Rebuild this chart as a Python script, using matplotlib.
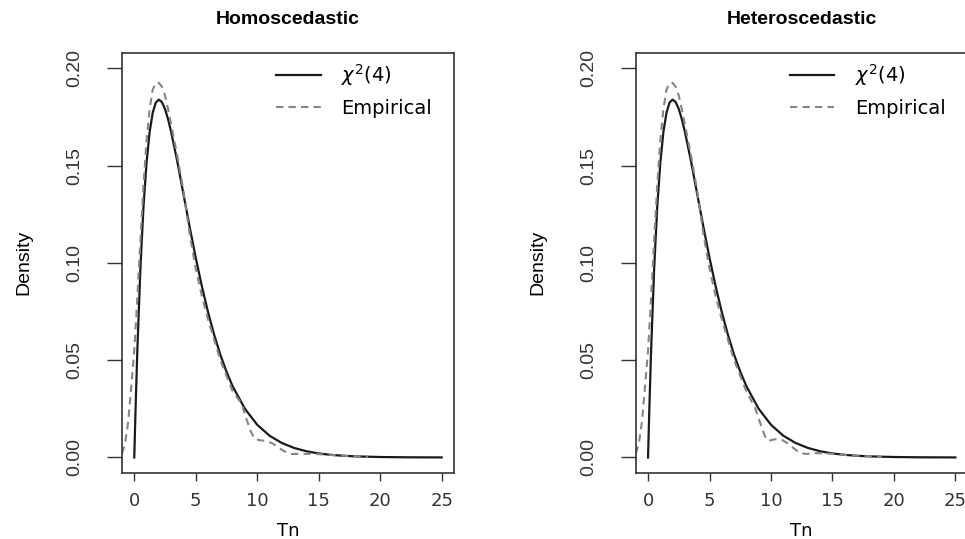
import numpy as np
import matplotlib
matplotlib.use("Agg")
import matplotlib.pyplot as plt

# chi-square(4) reference curve
chi_x = [0, 0.1, 0.25, 0.5, 0.75, 1, 1.25, 1.5, 1.75, 2, 2.25, 2.5, 2.75, 3, 3.5,
         4, 4.5, 5, 5.5, 6, 6.5, 7, 7.5, 8, 9, 10, 11, 12, 13, 14, 15, 16, 17, 18,
         20, 22, 25]
chi_y = [0, 0.0238, 0.0552, 0.0974, 0.1289, 0.1516, 0.1673, 0.1771, 0.1824, 0.1839,
         0.1826, 0.1791, 0.1738, 0.1673, 0.1521, 0.1353, 0.1186, 0.1026, 0.0879,
         0.0747, 0.0630, 0.0528, 0.0441, 0.0366, 0.0250, 0.0168, 0.0112, 0.00744,
         0.00489, 0.00319, 0.00207, 0.00134, 0.00086, 0.00056, 0.00023, 0.00009,
         0.00001]

# empirical densities
homo_x = [-1.0, -0.75, -0.5, -0.25, 0, 0.25, 0.5, 0.75, 1.0, 1.25, 1.5, 1.75, 2.0,
          2.25, 2.5, 2.75, 3.0, 3.5, 4.0, 4.5, 5.0, 5.5, 6.0, 7.0, 8.0, 8.75, 9.0,
          9.5, 9.8, 10.25, 10.75, 11.25, 11.75, 12.25, 12.75, 13.5, 14.5, 15.5,
          16.5, 17.5, 19.0]
homo_y = [0.002, 0.007, 0.018, 0.036, 0.055, 0.082, 0.112, 0.140, 0.163, 0.179,
          0.189, 0.1925, 0.1925, 0.1905, 0.186, 0.179, 0.171, 0.155, 0.137, 0.115,
          0.097, 0.083, 0.071, 0.050, 0.034, 0.0275, 0.022, 0.013, 0.0095, 0.0088,
          0.0085, 0.0072, 0.0050, 0.0030, 0.0018, 0.0018, 0.0019, 0.0015, 0.0011,
          0.0007, 0.0004]

hetero_x = [-1.0, -0.75, -0.5, -0.25, 0, 0.25, 0.5, 0.75, 1.0, 1.25, 1.5, 1.75, 2.0,
            2.25, 2.5, 2.75, 3.0, 3.5, 4.0, 4.5, 5.0, 5.5, 6.0, 7.0, 8.0, 8.7, 9.0,
            9.5, 9.8, 10.2, 10.5, 10.9, 11.3, 11.8, 12.3, 12.8, 13.7, 14.5, 15.5,
            16.5, 17.5, 19.0]
hetero_y = [0.002, 0.007, 0.018, 0.036, 0.055, 0.082, 0.112, 0.140, 0.163, 0.179,
            0.189, 0.1925, 0.1925, 0.1905, 0.186, 0.179, 0.171, 0.155, 0.137, 0.115,
            0.097, 0.083, 0.071, 0.050, 0.034, 0.0255, 0.020, 0.011, 0.0085, 0.0092,
            0.0094, 0.0090, 0.0075, 0.0050, 0.0025, 0.0018, 0.0022, 0.0021, 0.0016,
            0.0011, 0.0007, 0.0004]

titles = ["Homoscedastic", "Heteroscedastic"]
emp = [(homo_x, homo_y), (hetero_x, hetero_y)]

narrow = ['Liberation Sans', 'DejaVu Sans']

fig = plt.figure(figsize=(9.65, 5.39), dpi=100)
lefts = [0.1264, 0.6588]

for i in range(2):
    ax = fig.add_axes([lefts[i], 0.1224, 0.344, 0.7798])
    ax.plot(chi_x, chi_y, color='#1a1a1a', lw=1.6, label=r'$\chi^2$(4)')
    ax.plot(emp[i][0], emp[i][1], color='#858585', lw=1.5, ls=(0, (3.5, 2.5)),
            label='Empirical')
    ax.set_xlim(-1, 26)
    ax.set_ylim(-0.008, 0.208)
    ax.set_xticks([0, 5, 10, 15, 20, 25])
    ax.set_yticks([0, 0.05, 0.1, 0.15, 0.2])
    ax.set_yticklabels(['0.00', '0.05', '0.10', '0.15', '0.20'])
    ax.tick_params(axis='x', length=6, width=1, pad=8, labelsize=13, colors='#333333')
    ax.tick_params(axis='y', length=11, width=1, pad=17, labelsize=14, colors='#333333')
    for lab in ax.get_xticklabels():
        lab.set_family('DejaVu Sans')
    for lab in ax.get_yticklabels():
        lab.set_rotation(90)
        lab.set_va('center')
        lab.set_family(narrow)
    for s in ax.spines.values():
        s.set_linewidth(1.2)
        s.set_color('#333333')
    if i == 1:
        # right panel runs past the edge of the picture
        ax.spines['right'].set_visible(False)
    ax.set_xlabel('Tn', fontsize=13, family='DejaVu Sans', labelpad=8)
    ax.set_ylabel('Density', fontsize=14, family=narrow, labelpad=24)
    ax.set_title(titles[i], fontsize=14, fontweight='bold', family='Liberation Sans', pad=21)
    ax.legend(loc='upper left', bbox_to_anchor=(0.464, 0.978), frameon=False,
              borderpad=0, borderaxespad=0, handlelength=2.3, handletextpad=1.05,
              labelspacing=0.55, prop={'family': 'DejaVu Sans', 'size': 14})

fig.savefig('out.png', dpi=100)
